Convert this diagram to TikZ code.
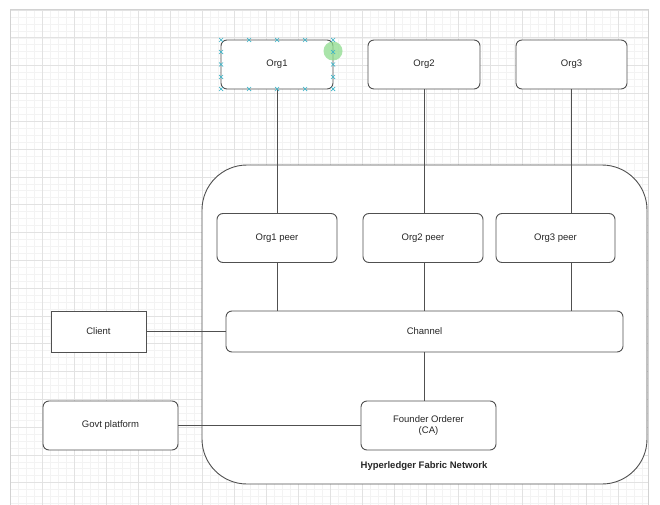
\documentclass[tikz,border=0pt]{standalone}
\usepackage{fontspec}
\setmainfont{Liberation Sans}
\usetikzlibrary{positioning}
\definecolor{linegray}{HTML}{505050}
\definecolor{gridminor}{HTML}{F3F3F3}
\definecolor{gridmajor}{HTML}{E2E2E2}
\definecolor{handlecyan}{HTML}{3EB4C8}
\definecolor{hovergreen}{HTML}{8EDC8E}

\begin{document}
\begin{tikzpicture}[x=1pt,y=-1pt,
    box/.style={draw=linegray,fill=white,rounded corners=6pt,line width=0.9pt,
      minimum height=49pt,inner sep=0pt,text=black!85,
      font=\fontsize{9.5}{11}\selectfont,align=center},
    sharpbox/.style={box,rounded corners=0pt,minimum height=41pt},
    wire/.style={draw=linegray,line width=0.9pt},
    handle/.style={draw=handlecyan,line width=0.7pt}]
	\useasboundingbox[fill=white] (0,0) rectangle (660,505);
	% drawing grid
	\foreach \x in {10,18,...,646} \draw[gridminor,line width=0.5pt] (\x,10) -- (\x,505);
	\foreach \i in {0,...,71} \draw[gridminor,line width=0.5pt] (10,{10+6.95*\i}) -- (648,{10+6.95*\i});
	\foreach \x in {10,42,...,646} \draw[gridmajor,line width=0.6pt] (\x,10) -- (\x,505);
	\foreach \i in {0,4,...,68} \draw[gridmajor,line width=0.6pt] (10,{10+6.95*\i}) -- (648,{10+6.95*\i});
	\draw[gray!35,line width=1pt] (10,505) -- (10,10) -- (648,10) -- (648,505);

	\node[box,rounded corners=45pt,minimum width=445pt,minimum height=319pt] (net) at (424.5,324.5) {};
	\node[font=\fontsize{9.5}{11}\selectfont\bfseries,text=black!85] (lbl) at (424,466) {Hyperledger Fabric Network};

	\node[box,minimum width=112pt] (o1) at (277,64.5) {Org1};
	\node[box,minimum width=112pt] (o2) at (424,64.5) {Org2};
	\node[box,minimum width=111pt] (o3) at (571.5,64.5) {Org3};
	\node[box,minimum width=120pt] (p1) at (277,238) {Org1 peer};
	\node[box,minimum width=120pt] (p2) at (423,238) {Org2 peer};
	\node[box,minimum width=119pt] (p3) at (555.5,238) {Org3 peer};
	\node[box,minimum width=397pt,minimum height=41pt] (ch) at (424.5,331.5) {Channel};
	\node[sharpbox,minimum width=95pt] (cl) at (98.5,331.5) {Client};
	\node[box,minimum width=135pt] (gv) at (110.5,425.5) {Govt platform};
	\node[box,minimum width=135pt] (od) at (428.5,425.5) {Founder Orderer\\(CA)};

	\path[wire] (o1) edge (p1)
	            (o2.south) edge (o2.south |- p2.north)
	            (o3.south) edge (o3.south |- p3.north)
	            (p1) edge (p1 |- ch.north)
	            (p2.south -| o2.south) edge (o2.south |- ch.north)
	            (p3.south -| o3.south) edge (o3.south |- ch.north)
	            (cl) edge (cl -| ch.west)
	            (ch.south -| o2.south) edge (o2.south |- od.north)
	            (gv) edge (gv -| od.west);

	% selection marks on Org1
	\fill[hovergreen,opacity=0.75] (333,51) circle (9.5);
	\foreach \x in {221,249,277,305,333} {
		\draw[handle] (\x,40) +(-2,-2) -- +(2,2) +(-2,2) -- +(2,-2);
		\draw[handle] (\x,89) +(-2,-2) -- +(2,2) +(-2,2) -- +(2,-2);
	}
	\foreach \y in {52,64.5,77} {
		\draw[handle] (221,\y) +(-2,-2) -- +(2,2) +(-2,2) -- +(2,-2);
		\draw[handle] (333,\y) +(-2,-2) -- +(2,2) +(-2,2) -- +(2,-2);
	}
\end{tikzpicture}
\end{document}
